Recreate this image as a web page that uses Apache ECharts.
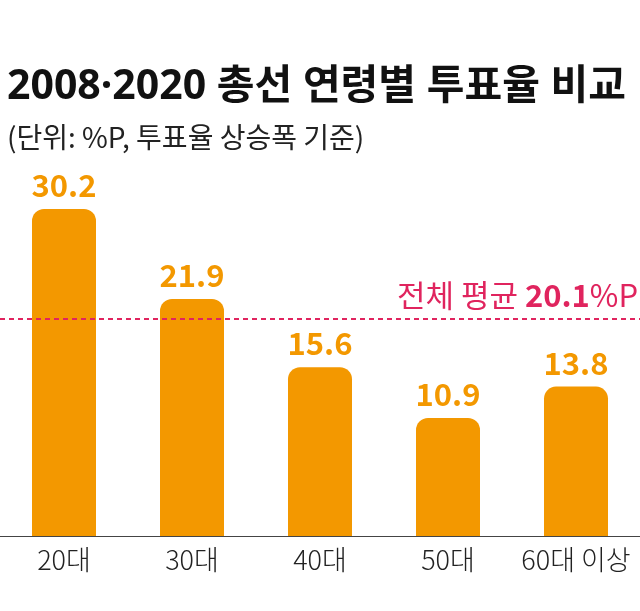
<!DOCTYPE html>
<html><head><meta charset="utf-8">
<script src="https://cdn.jsdelivr.net/npm/echarts@6/dist/echarts.min.js"></script>
<style>html,body{margin:0;padding:0;background:#fff}#c{width:640px;height:611px}</style>
</head><body><div id="c"></div>
<script>
const categories = ['20대', '30대', '40대', '50대', '60대 이상'];
const values = [30.2, 21.9, 15.6, 10.9, 13.8];
const averageValue = 20.1;
const titleText = '2008·2020 총선 연령별 투표율 비교';
const subtitleText = '(단위: %P, 투표율 상승폭 기준)';

const FONT = '"Noto Sans CJK KR", "Noto Sans", sans-serif';
const TITLE_FONT = '"Noto Sans", "Noto Sans CJK KR", sans-serif';
const ORANGE = '#F39800';
const RED = '#E0245E';

const chart = echarts.init(document.getElementById('c'), null, {renderer: 'canvas'});
chart.setOption({
  animation: false,
  backgroundColor: '#fff',
  title: [
    {text: titleText, left: 2, top: 62,
     textStyle: {fontFamily: TITLE_FONT, fontSize: 41, fontWeight: 'bold', color: '#111'}},
    {text: subtitleText, left: 2, top: 118,
     textStyle: {fontFamily: FONT, fontSize: 28, fontWeight: 'normal', color: '#222'}}
  ],
  grid: {left: 0, right: 0, top: 103, bottom: 75},
  xAxis: {
    type: 'category', data: categories,
    axisTick: {show: false},
    axisLine: {lineStyle: {color: '#444', width: 1}},
    axisLabel: {interval: 0, fontFamily: FONT, fontSize: 27, color: '#222', margin: 10, fontWeight: 300}
  },
  yAxis: {type: 'value', min: 0, max: 40, show: false, splitLine: {show: false}},
  series: [{
    type: 'bar', data: values, barWidth: 64,
    itemStyle: {color: ORANGE, borderRadius: [12, 12, 0, 0]},
    label: {show: true, position: 'top', distance: 8, color: ORANGE,
      fontFamily: FONT, fontSize: 31, fontWeight: 'bold',
      formatter: p => p.value.toFixed(1)},
    markLine: {
      symbol: 'none', silent: true,
      lineStyle: {color: RED, type: [5, 4], width: 1.8},
      data: [{yAxis: averageValue}],
      label: {
        position: 'insideEndTop', distance: [2, 8],
        formatter: '{a|전체 평균 }{b|' + averageValue.toFixed(1) + '}{a|%P}',
        rich: {
          a: {fontFamily: FONT, fontSize: 31, color: RED, fontWeight: 'normal'},
          b: {fontFamily: FONT, fontSize: 31, color: RED, fontWeight: 'bold'}
        }
      }
    }
  }]
});
</script></body></html>
